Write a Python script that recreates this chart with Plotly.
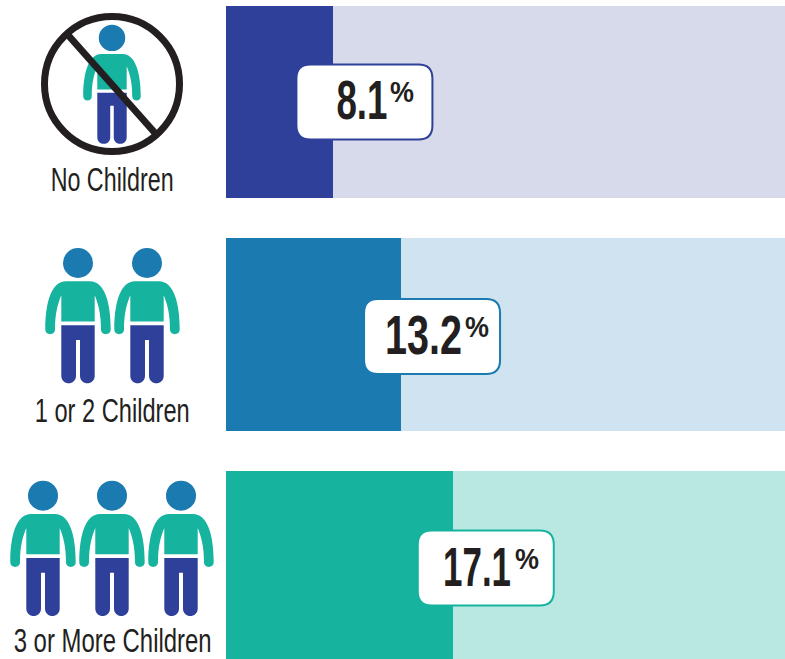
import json
import plotly.graph_objects as go

categories = ["No Children", "1 or 2 Children", "3 or More Children"]
values = [8.1, 13.2, 17.1]
value_labels = ["8.1", "13.2", "17.1"]
bar_colors = ["#2E409A", "#1B7AB0", "#16B39E"]
track_colors = ["#D6DAEB", "#D0E3F0", "#B9E7E1"]
axis_max = 42.15

W, H = 785, 659
FONT = "Liberation Sans"
DARK = "#231F20"
y_idx = list(range(len(categories)))

fig = go.Figure()
fig.add_trace(go.Bar(y=y_idx, x=[axis_max] * 3, orientation="h", width=0.826,
                     marker=dict(color=track_colors, line=dict(width=0)), showlegend=False, hoverinfo="skip"))
fig.add_trace(go.Bar(y=y_idx, x=values, orientation="h", width=0.826, text=None,
                     marker=dict(color=bar_colors, line=dict(width=0)), showlegend=False,
                     customdata=categories, hovertemplate="%{customdata}: %{x}%<extra></extra>"))

def px(x): return x / W
def py(y): return 1 - y / H
def P(x, y): return f"{px(x):.5f},{py(y):.5f}"

def person(cx, y0, s, shapes):
    def pt(dx, dy): return P(cx + dx * s, y0 + dy * s)
    r = 15 * s
    hy = y0 - 18.3 * s
    shapes.append(dict(type="circle", xref="paper", yref="paper", x0=px(cx - r), x1=px(cx + r),
                       y0=py(hy + r), y1=py(hy - r), fillcolor="#1B7AB0", line=dict(width=0), layer="above"))
    top = ("M" + pt(-12, 0) + "L" + pt(12, 0)
           + "C" + pt(26, 0) + " " + pt(32.7, 20) + " " + pt(32.7, 48)
           + "C" + pt(32.7, 54.5) + " " + pt(23, 54.5) + " " + pt(23, 48)
           + "C" + pt(23, 32) + " " + pt(20, 22) + " " + pt(16.7, 14)
           + "L" + pt(16.7, 40.3) + "L" + pt(-16.7, 40.3) + "L" + pt(-16.7, 14)
           + "C" + pt(-20, 22) + " " + pt(-23, 32) + " " + pt(-23, 48)
           + "C" + pt(-23, 54.5) + " " + pt(-32.7, 54.5) + " " + pt(-32.7, 48)
           + "C" + pt(-32.7, 20) + " " + pt(-26, 0) + " " + pt(-12, 0) + "Z")
    shapes.append(dict(type="path", xref="paper", yref="paper", path=top, fillcolor="#16B39E",
                       line=dict(width=0), layer="above"))
    legs = ("M" + pt(-16.7, 44) + "L" + pt(16.7, 44) + "L" + pt(16.7, 94.5)
            + "C" + pt(16.7, 104.5) + " " + pt(2, 104.5) + " " + pt(2, 94.5)
            + "L" + pt(2, 58.7) + "L" + pt(-2, 58.7) + "L" + pt(-2, 94.5)
            + "C" + pt(-2, 104.5) + " " + pt(-16.7, 104.5) + " " + pt(-16.7, 94.5) + "Z")
    shapes.append(dict(type="path", xref="paper", yref="paper", path=legs, fillcolor="#2E409A",
                       line=dict(width=0), layer="above"))

shapes = []
person(112, 54, 0.88, shapes)
shapes.append(dict(type="circle", xref="paper", yref="paper", x0=px(112 - 67.5), x1=px(112 + 67.5),
                   y0=py(84 + 67.5), y1=py(84 - 67.5), fillcolor="rgba(0,0,0,0)",
                   line=dict(color=DARK, width=7), layer="above"))
shapes.append(dict(type="line", xref="paper", yref="paper", x0=px(68), y0=py(35), x1=px(155), y1=py(133),
                   line=dict(color=DARK, width=7), layer="above"))
for cx in (78, 147):
    person(cx, 281.3, 1, shapes)
for cx in (43, 112, 181):
    person(cx, 514, 1, shapes)

def badge_path(dx0, dx1, dy, h=37.5, r=14):
    x0, x1 = dx0, dx1
    y0, y1 = dy - h, dy + h
    return (f"M{x0 + r},{y0} L{x1 - r},{y0} Q{x1},{y0} {x1},{y0 + r} L{x1},{y1 - r} Q{x1},{y1} {x1 - r},{y1} "
            f"L{x0 + r},{y1} Q{x0},{y1} {x0},{y1 - r} L{x0},{y0 + r} Q{x0},{y0} {x0 + r},{y0} Z")

badge_left = [-37, -37, -35]
badge_dy = [0, -2, -1]
value_right = [55.5, 63, 60]
percent_left = [55, 62, 60]
value_yshift = [2, -0.5, 0]
annotations = []
squeeze = []   # per-annotation: target width in px and the edge kept fixed
value_widths = [51, 77, 68]
for i, v in enumerate(values):
    shapes.append(dict(type="path", xref="x", yref="y", xsizemode="pixel", ysizemode="pixel",
                       xanchor=v, yanchor=i, path=badge_path(badge_left[i], badge_left[i] + 136, badge_dy[i]),
                       fillcolor="white", line=dict(color=bar_colors[i], width=2), layer="above"))
    annotations.append(dict(x=v, y=i, xref="x", yref="y", text=f"<b>{value_labels[i]}</b>", showarrow=False,
                            xanchor="right", yanchor="middle", xshift=value_right[i], yshift=value_yshift[i],
                            font=dict(family=FONT, size=55, color=DARK)))
    squeeze.append([value_widths[i], "right"])
    annotations.append(dict(x=v, y=i, xref="x", yref="y", text="<b>%</b>", showarrow=False,
                            xanchor="left", yanchor="middle", xshift=percent_left[i], yshift=value_yshift[i] + 8.5,
                            font=dict(family=FONT, size=30, color=DARK)))
    squeeze.append([24, "left"])

label_y = [179.5, 410.5, 640]
label_widths = [123, 155, 198]
for name, ly, w in zip(categories, label_y, label_widths):
    annotations.append(dict(x=px(112), y=py(ly), xref="paper", yref="paper", text=name, showarrow=False,
                            xanchor="center", yanchor="middle",
                            font=dict(family=FONT, size=33, color=DARK)))
    squeeze.append([w, "center"])

fig.update_layout(
    width=W, height=H, autosize=False, margin=dict(l=0, r=0, t=0, b=0),
    paper_bgcolor="white", plot_bgcolor="white", barmode="overlay", bargap=0, showlegend=False,
    xaxis=dict(domain=[226 / W, 1], range=[0, axis_max], visible=False, fixedrange=True),
    yaxis=dict(domain=[0, 1], range=[2.3957, -0.4387], visible=False, fixedrange=True),
    shapes=shapes, annotations=annotations,
)

# Condensed look: no condensed face is installed, so narrow the real text horizontally.
post = """
document.body.style.margin='0';
var squeeze = %s;
document.querySelectorAll('.annotation').forEach(function (g) {
  var i = +g.getAttribute('data-index');
  var t = g.querySelector('text');
  if (!t || !squeeze[i]) return;
  var b = t.getBBox();
  var sx = squeeze[i][0] / b.width;
  var ox = squeeze[i][1] === 'right' ? b.x + b.width : squeeze[i][1] === 'left' ? b.x : b.x + b.width / 2;
  t.setAttribute('transform', 'translate(' + ox + ' 0) scale(' + sx + ' 1) translate(' + (-ox) + ' 0)');
});
""" % json.dumps(squeeze)
fig.write_html("out.html", config={"displayModeBar": False}, post_script=post)
